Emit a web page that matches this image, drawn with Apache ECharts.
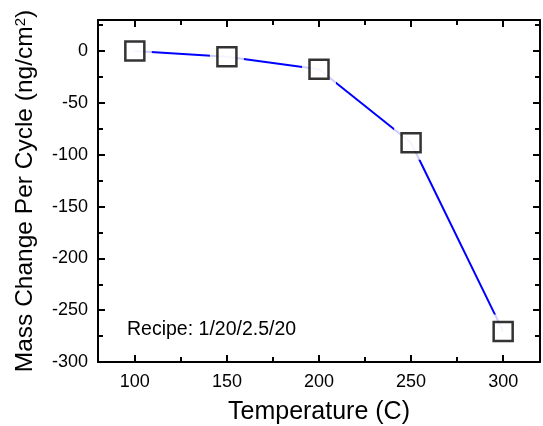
<!DOCTYPE html>
<html>
<head>
<meta charset="utf-8">
<script src="https://cdn.jsdelivr.net/npm/echarts@6/dist/echarts.min.js"></script>
<style>
  html, body { margin: 0; padding: 0; background: #fff; }
  #chart { width: 543px; height: 426px; }
</style>
</head>
<body>
<div id="chart"></div>
<script>
// Temperature sweep (°C) and mass change per cycle (ng/cm²)
const temperatures = [100, 150, 200, 250, 300];
const massChange = [0, -5.5, -17.5, -88.5, -270.5];
const xMajorTicks = [100, 150, 200, 250, 300];
const xMinorTicks = [125, 175, 225, 275];
const yMajorTicks = [0, -50, -100, -150, -200, -250, -300];
const yMinorTicks = [25, -25, -75, -125, -175, -225, -275];
const recipeLabel = 'Recipe: 1/20/2.5/20';

const points = temperatures.map((t, i) => [t, massChange[i]]);
const font = 'Liberation Sans, Arial, sans-serif';
const X_RANGE = { min: 80, max: 320 };
const Y_RANGE = { min: -300, max: 30 };

// one axis of the frame: line + inward ticks at given values
function frameAxis(range, position, ticks, opts) {
  return Object.assign({
    type: 'value', min: range.min, max: range.max, position: position,
    axisLine: { show: opts.line, onZero: false, lineStyle: { color: '#000', width: 2 } },
    axisTick: {
      show: true, inside: true, length: opts.tickLen, customValues: ticks,
      lineStyle: { color: '#000', width: 2 }
    },
    axisLabel: { show: false },
    splitLine: { show: false }
  }, opts.extra || {});
}

const chart = echarts.init(document.getElementById('chart'));
chart.setOption({
  animation: false,
  grid: { left: 98, right: 3, top: 20, bottom: 64, containLabel: false, outerBoundsMode: 'none' },
  xAxis: [
    frameAxis(X_RANGE, 'bottom', xMajorTicks, { line: true, tickLen: 7, extra: {
      name: 'Temperature (C)', nameLocation: 'middle', nameGap: 38,
      nameTextStyle: { fontFamily: font, fontSize: 25, color: '#000' },
      axisLabel: {
        show: true, customValues: xMajorTicks,
        fontFamily: font, fontSize: 18, color: '#000', margin: 11
      }
    } }),
    frameAxis(X_RANGE, 'top', xMajorTicks, { line: true, tickLen: 7 }),
    frameAxis(X_RANGE, 'bottom', xMinorTicks, { line: false, tickLen: 5 }),
    frameAxis(X_RANGE, 'top', xMinorTicks, { line: false, tickLen: 5 })
  ],
  yAxis: [
    frameAxis(Y_RANGE, 'left', yMajorTicks, { line: true, tickLen: 7, extra: {
      name: 'Mass Change Per Cycle (ng/cm{sup|2})', nameLocation: 'middle', nameGap: 60,
      nameTextStyle: {
        fontFamily: font, fontSize: 24.5, color: '#000',
        rich: { sup: { fontFamily: font, fontSize: 15, color: '#000', verticalAlign: 'top', padding: [0, 0, 10, 0] } }
      },
      axisLabel: {
        show: true, customValues: yMajorTicks,
        fontFamily: font, fontSize: 18, color: '#000', margin: 10
      }
    } }),
    frameAxis(Y_RANGE, 'right', yMajorTicks, { line: true, tickLen: 7 }),
    frameAxis(Y_RANGE, 'left', yMinorTicks, { line: false, tickLen: 5 }),
    frameAxis(Y_RANGE, 'right', yMinorTicks, { line: false, tickLen: 5 })
  ],
  series: [
    {
      type: 'line', data: points, symbol: 'none', z: 2,
      lineStyle: { color: '#0000ff', width: 2 }
    },
    {
      // white halo that leaves a small gap between line and markers
      type: 'scatter', data: points, symbol: 'rect', symbolSize: 34, z: 3,
      itemStyle: { color: '#fff', borderWidth: 0 },
      silent: true
    },
    {
      type: 'scatter', data: points, symbol: 'rect', symbolSize: 19, z: 4,
      itemStyle: { color: '#fff', borderColor: '#000', borderWidth: 2.5 }
    }
  ],
  graphic: [
    {
      type: 'text', left: 127, top: 320, z: 10,
      style: { text: recipeLabel, fontFamily: font, fontSize: 19.5, fill: '#000' }
    }
  ]
});
</script>
</body>
</html>
